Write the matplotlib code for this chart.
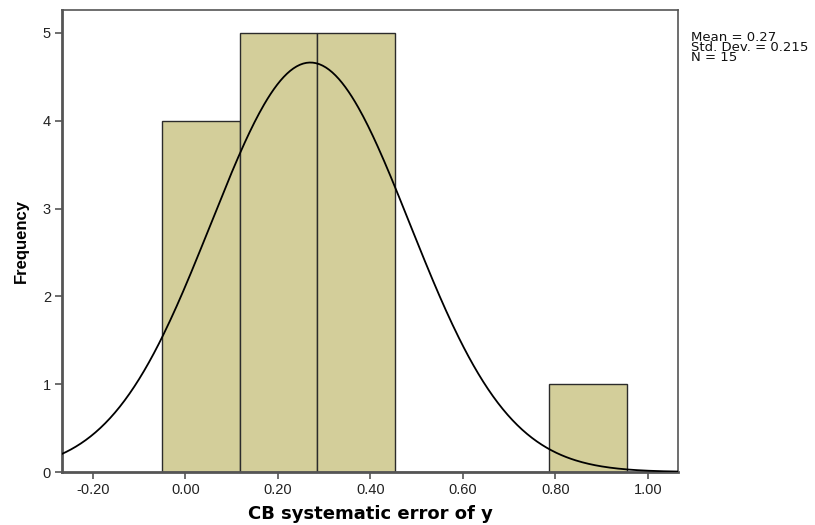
import numpy as np
import matplotlib
matplotlib.use("Agg")
import matplotlib.pyplot as plt

plt.rcParams['font.family'] = ['Liberation Sans', 'DejaVu Sans']

# histogram bins (SPSS style) and counts
bin_edges = [-0.0505, 0.1170, 0.2845, 0.4520, 0.6195, 0.7870, 0.9545]
counts = [4, 5, 5, 0, 0, 1]
mean_val = 0.27
std_val = 0.215
n_val = 15
x_ticks = [-0.20, 0.00, 0.20, 0.40, 0.60, 0.80, 1.00]
y_ticks = [0, 1, 2, 3, 4, 5]

fig = plt.figure(figsize=(8.15, 5.25), dpi=100)
ax = fig.add_axes([62 / 815, 53 / 525, 616 / 815, 462 / 525])

edges = np.array(bin_edges)
widths = np.diff(edges)
ax.bar(edges[:-1], counts, width=widths, align='edge', color='#d3ce9a',
       edgecolor='#2b2b2b', linewidth=1.0, zorder=2)

# normal curve scaled to the histogram
bw = widths.mean()
xs = np.linspace(-0.3, 1.1, 400)
ys = n_val * bw / (std_val * np.sqrt(2 * np.pi)) * np.exp(-0.5 * ((xs - mean_val) / std_val) ** 2)
ax.plot(xs, ys, color='black', linewidth=1.3, zorder=3)

ax.set_xlim(-0.267, 1.065)
ax.set_ylim(0, 5.26)
ax.set_xticks(x_ticks)
ax.set_xticklabels([f"{t:.2f}" for t in x_ticks])
ax.set_yticks(y_ticks)

for s in ax.spines.values():
    s.set_color('#555555')
    s.set_linewidth(1.2)
ax.spines['left'].set_linewidth(2)
ax.spines['bottom'].set_linewidth(2)
ax.tick_params(axis='both', direction='out', length=5, width=1.2, color='#555555',
               labelsize=10.5, labelcolor='#222222', pad=3)

ax.set_xlabel('CB systematic error of y', fontsize=13, fontweight='bold', labelpad=6,
              family='DejaVu Sans')
ax.set_ylabel('Frequency', fontsize=12, fontweight='bold', labelpad=10)

fig.text(691 / 815, 1 - 31 / 525,
         f"Mean = {mean_val}\nStd. Dev. = {std_val}\nN = {n_val}",
         fontsize=9.5, va='top', ha='left', linespacing=0.68, color='#111111',
         family='DejaVu Sans')

fig.savefig('out.png', dpi=100)
